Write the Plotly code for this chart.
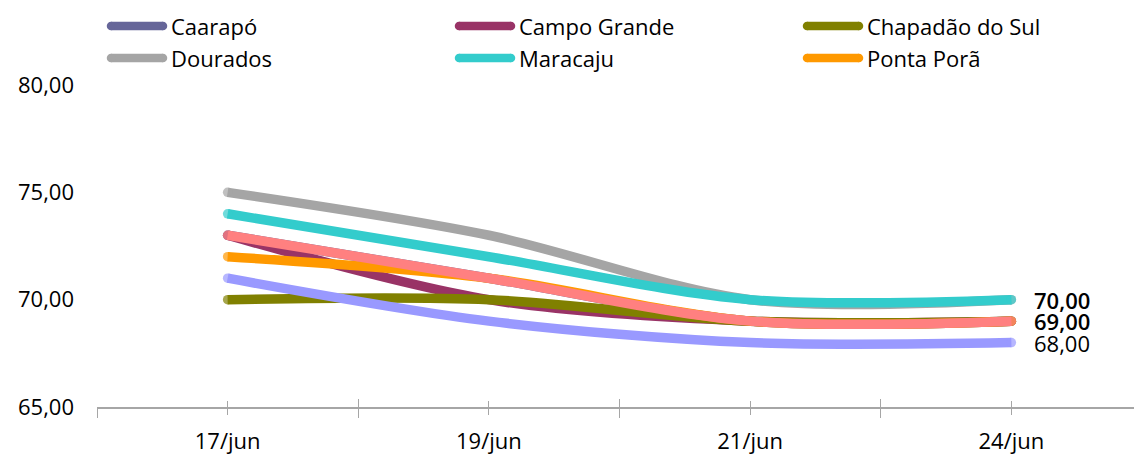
import plotly.graph_objects as go

# ---- data ----
dates = ["17/jun", "19/jun", "21/jun", "24/jun"]
series_names = ["Caarapó", "Campo Grande", "Chapadão do Sul", "Dourados",
                "Maracaju", "Ponta Porã", "Série 7", "Série 8"]
caarapo = [73, 71, 69, 69]
campo_grande = [73, 70, 69, 69]
chapadao = [70, 70, 69, 69]
dourados = [75, 73, 70, 70]
maracaju = [74, 72, 70, 70]
ponta_pora = [72, 71, 69, 69]
serie7 = [71, 69, 68, 68]
serie8 = [73, 71, 69, 69]
values = [caarapo, campo_grande, chapadao, dourados, maracaju, ponta_pora, serie7, serie8]
colors = ["#666699", "#993366", "#808000", "#A5A5A5", "#33CCCC", "#FF9900", "#9999FF", "#FF8080"]
in_legend = [True, True, True, True, True, True, False, False]
y_ticks = [65, 70, 75, 80]

FONT = "Open Sans, Noto Sans, DejaVu Sans, sans-serif"
FS = 22
W, H = 1134, 456
ML, MT, MB = 97, 85, 49
cat_px = 261.25
LW = 9.5
x_pos = list(range(len(dates)))
x_range = [-0.5, -0.5 + (W - ML) / cat_px]
plot_w = W - ML
plot_h = H - MT - MB


def px_to_paper(px, py):
    return (px - ML) / plot_w, 1 - (py - MT) / plot_h


fig = go.Figure()
for name, vals, col in zip(series_names, values, colors):
    fig.add_trace(go.Scatter(
        x=x_pos, y=vals, name=name, mode="lines+markers",
        line=dict(color=col, width=LW, shape="spline", smoothing=0.9),
        marker=dict(color=col, size=[LW if i in (0, len(vals) - 1) else 0 for i in range(len(vals))],
                    line=dict(width=0)),
        showlegend=False, hoverinfo="skip"))

# data labels at last point (coinciding labels drawn once, slightly heavier like the overprinted original)
last_vals = [v[-1] for v in values]
for v in sorted(set(last_vals), reverse=True):
    n = last_vals.count(v)
    fig.add_annotation(x=x_pos[-1], y=v, xref="x", yref="y",
                       text=f"{v:.2f}".replace(".", ","), showarrow=False,
                       xanchor="left", yanchor="middle", xshift=21,
                       font=dict(family=FONT, size=FS, color="#000000",
                                 weight=600 if n > 1 else 400))

# dummy trace for overlay axis (crossing ticks)
fig.add_trace(go.Scatter(x=[], y=[], xaxis="x2", yaxis="y", showlegend=False, hoverinfo="skip"))

# manual legend (3 columns, 2 rows)
col_x = [107, 455, 803]
row_y = [26, 58]
idx = 0
for name, col, show in zip(series_names, colors, in_legend):
    if not show:
        continue
    r, c = divmod(idx, 3)
    x0, yy = px_to_paper(col_x[c] + 4, row_y[r])
    x1, _ = px_to_paper(col_x[c] + 56, row_y[r])
    fig.add_shape(type="line", xref="paper", yref="paper", x0=x0, x1=x1, y0=yy, y1=yy,
                  line=dict(color=col, width=8.5), layer="above")
    for xe in (col_x[c] + 4, col_x[c] + 56):
        cx, cy = px_to_paper(xe, row_y[r])
        fig.add_shape(type="circle", xref="paper", yref="paper",
                      x0=cx - 4.25 / plot_w, x1=cx + 4.25 / plot_w,
                      y0=cy - 4.25 / plot_h, y1=cy + 4.25 / plot_h,
                      line=dict(width=0), fillcolor=col, layer="above")
    ax, ay = px_to_paper(col_x[c] + 62, row_y[r])
    fig.add_annotation(xref="paper", yref="paper", x=ax, y=ay,
                       text=name, showarrow=False, xanchor="left", yanchor="middle",
                       font=dict(family=FONT, size=FS, color="#000000"))
    idx += 1

fig.update_layout(
    width=W, height=H,
    margin=dict(l=ML, r=0, t=MT, b=MB, autoexpand=False),
    paper_bgcolor="white", plot_bgcolor="white",
    separators=",.",
    font=dict(family=FONT, size=FS, color="#000000"),
    xaxis=dict(range=x_range, tickvals=x_pos, ticktext=dates, ticks="outside", ticklen=6,
               tickcolor="#A6A6A6", tickwidth=1, showline=True, linecolor="#A6A6A6", linewidth=1.5,
               showgrid=False, zeroline=False, ticklabelstandoff=8,
               minor=dict(tickmode="linear", tick0=-0.5, dtick=1, ticks="outside", ticklen=9,
                          tickcolor="#A6A6A6", tickwidth=1, showgrid=False),
               tickfont=dict(family=FONT, size=FS, color="#000000")),
    xaxis2=dict(range=x_range, overlaying="x", anchor="y", side="bottom", tickvals=x_pos,
                showticklabels=False, ticks="inside", ticklen=6, tickcolor="#A6A6A6", tickwidth=1,
                showline=False, showgrid=False, zeroline=False,
                minor=dict(tickmode="linear", tick0=-0.5, dtick=1, ticks="inside", ticklen=8,
                           tickcolor="#A6A6A6", tickwidth=1, showgrid=False)),
    yaxis=dict(range=[65, 80], tickvals=y_ticks, tickformat=".2f", showgrid=False, zeroline=False,
               showline=False, ticks="", ticklabelstandoff=22,
               tickfont=dict(family=FONT, size=FS, color="#000000")),
    showlegend=False,
)

fig.write_html("out.html", config={"displayModeBar": False},
               post_script="document.body.style.margin='0';document.body.style.overflow='hidden';")
